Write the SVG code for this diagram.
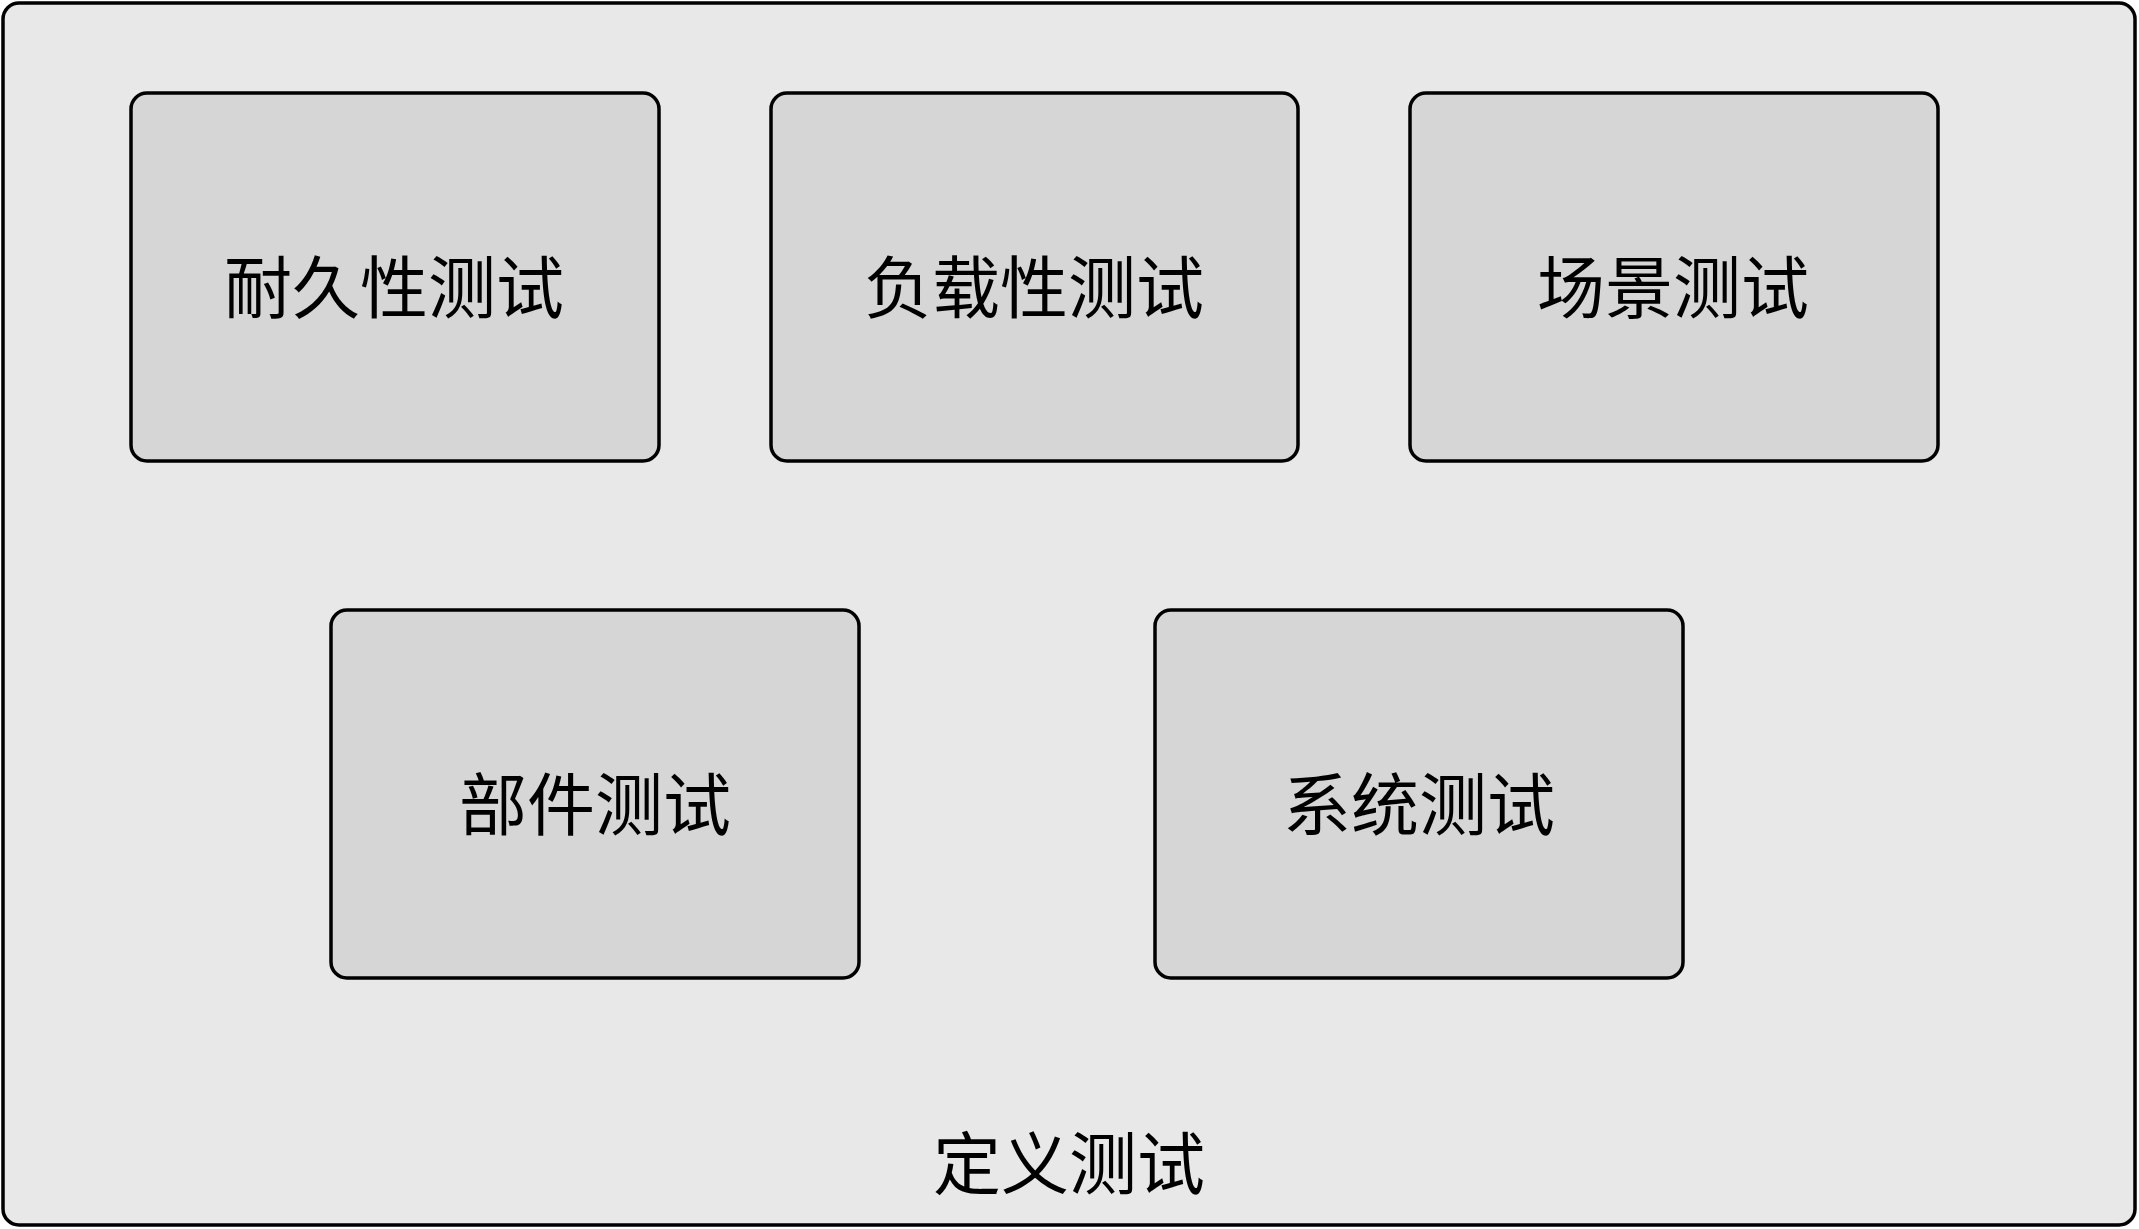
<svg xmlns="http://www.w3.org/2000/svg" width="2139" height="1229" viewBox="0 0 2139 1229">
<style>
.frame{fill:#e8e8e8;stroke:#000;stroke-width:3.5}
.box{fill:#d6d6d6;stroke:#000;stroke-width:3.5}
.lbl{font-family:"Liberation Serif","Noto Sans CJK SC",serif;font-size:68px;fill:#000;text-anchor:middle;dominant-baseline:central}
</style>
<rect width="2139" height="1229" fill="#ffffff"/>
<g id="container">
<rect class="frame" x="3" y="3" width="2132" height="1222" rx="16" ry="16"/>
<text class="lbl" x="1069" y="1166">定义测试</text>
</g>
<g id="node-durability">
<rect class="box" x="131" y="93" width="528" height="368" rx="16" ry="16"/>
<text class="lbl" x="394" y="290">耐久性测试</text>
</g>
<g id="node-load">
<rect class="box" x="771" y="93" width="527" height="368" rx="16" ry="16"/>
<text class="lbl" x="1034" y="290">负载性测试</text>
</g>
<g id="node-scenario">
<rect class="box" x="1410" y="93" width="528" height="368" rx="16" ry="16"/>
<text class="lbl" x="1673" y="290">场景测试</text>
</g>
<g id="node-component">
<rect class="box" x="331" y="610" width="528" height="368" rx="16" ry="16"/>
<text class="lbl" x="595" y="807">部件测试</text>
</g>
<g id="node-system">
<rect class="box" x="1155" y="610" width="528" height="368" rx="16" ry="16"/>
<text class="lbl" x="1419" y="807">系统测试</text>
</g>
<g id="connectors"></g>
</svg>
